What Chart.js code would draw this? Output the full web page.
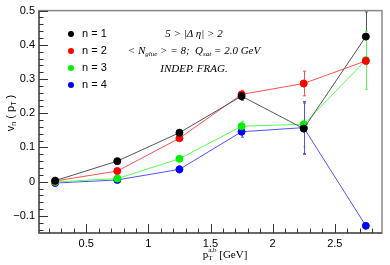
<!DOCTYPE html>
<html>
<head>
<meta charset="utf-8">
<script src="https://cdn.jsdelivr.net/npm/chart.js@4/dist/chart.umd.min.js"></script>
<style>
  html, body { margin: 0; padding: 0; background: #fff; }
  #wrap { width: 390px; height: 265px; }
</style>
</head>
<body>
<div id="wrap"><canvas id="c" width="390" height="265"></canvas></div>
<script>
// pT bins (GeV)
const ptBins = [0.25, 0.75, 1.25, 1.75, 2.25, 2.75];

const labels = ["n = 1", "n = 2", "n = 3", "n = 4"];
const colors = ["#000000", "#ff0000", "#00ee00", "#0000ff"];
const lineColors = ["#555555", "#ff5050", "#55ff55", "#5050ff"];

const v1 = [0.003, 0.060, 0.143, 0.250, 0.155, 0.424];
const v2 = [0.002, 0.031, 0.127, 0.255, 0.287, 0.353];
const v3 = [-0.001, 0.009, 0.067, 0.162, 0.168, 0.355];
const v4 = [-0.004, 0.005, 0.036, 0.146, 0.158, -0.129];

const e1 = [0.003, 0.004, 0.005, 0.012, 0.075, 0.072];
const e2 = [0.003, 0.004, 0.006, 0.012, 0.036, 0.010];
const e3 = [0.003, 0.004, 0.008, 0.015, 0.066, 0.085];
const e4 = [0.003, 0.004, 0.010, 0.016, 0.076, 0.005];

const xTicks = [0.5, 1, 1.5, 2, 2.5];
const yTicks = [-0.1, 0, 0.1, 0.2, 0.3, 0.4, 0.5];

const series = [v1, v2, v3, v4];
const errors = [e1, e2, e3, e4];

const datasets = series.map((vals, i) => ({
  label: labels[i],
  data: vals.map((v, j) => ({ x: ptBins[j], y: v })),
  showLine: true,
  borderColor: lineColors[i],
  borderWidth: 1,
  backgroundColor: colors[i],
  pointBackgroundColor: colors[i],
  pointBorderColor: colors[i],
  pointRadius: 3.5,
  pointHoverRadius: 3.5,
  order: i === 0 ? -1 : i
}));

// error bars, drawn before the points
const errorBars = {
  id: "errorBars",
  beforeDatasetsDraw(chart) {
    const ctx = chart.ctx, xs = chart.scales.x, ys = chart.scales.y;
    ctx.save();
    errors.forEach((errs, i) => {
      ctx.strokeStyle = lineColors[i];
      ctx.lineWidth = 1;
      errs.forEach((e, j) => {
        const px = Math.round(xs.getPixelForValue(ptBins[j])) + 0.5;
        const top = ys.getPixelForValue(series[i][j] + e);
        const bot = ys.getPixelForValue(series[i][j] - e);
        ctx.beginPath();
        ctx.moveTo(px, top); ctx.lineTo(px, bot);
        ctx.moveTo(px - 1.5, top); ctx.lineTo(px + 1.5, top);
        ctx.moveTo(px - 1.5, bot); ctx.lineTo(px + 1.5, bot);
        ctx.stroke();
      });
    });
    ctx.restore();
  }
};

// ROOT style frame, inward ticks, legend and texts
const decor = {
  id: "decor",
  afterDraw(chart) {
    const ctx = chart.ctx, a = chart.chartArea, xs = chart.scales.x, ys = chart.scales.y;
    ctx.save();
    // frame
    ctx.strokeStyle = "#888";
    ctx.lineWidth = 1.5;
    ctx.strokeRect(a.left, a.top, a.right - a.left, a.bottom - a.top);
    ctx.strokeStyle = "#555";
    ctx.beginPath();
    ctx.moveTo(a.left, a.top); ctx.lineTo(a.left, a.bottom); ctx.lineTo(a.right, a.bottom);
    ctx.stroke();

    // ticks
    ctx.lineWidth = 1;
    ctx.strokeStyle = "#333";
    ctx.beginPath();
    for (let k = 2; k <= 28; k++) {
      const v = k / 10;
      const px = Math.round(xs.getPixelForValue(v)) + 0.5;
      const len = (k % 5 === 0) ? 9 : 4.5;
      ctx.moveTo(px, a.bottom); ctx.lineTo(px, a.bottom - len);
    }
    for (let k = -7; k <= 25; k++) {
      const v = k / 50;
      const py = Math.round(ys.getPixelForValue(v)) + 0.5;
      const len = (k % 5 === 0) ? 9 : 4.5;
      ctx.moveTo(a.left, py); ctx.lineTo(a.left + len, py);
    }
    ctx.stroke();

    // legend
    ctx.font = "11px 'Liberation Sans', Arial, sans-serif";
    ctx.textBaseline = "middle";
    ctx.textAlign = "left";
    labels.forEach((lab, i) => {
      const y = 34 + i * 17;
      ctx.fillStyle = colors[i];
      ctx.beginPath();
      ctx.arc(71, y, 3, 0, Math.PI * 2);
      ctx.fill();
      ctx.fillStyle = "#000";
      ctx.fillText(lab, 82, y);
    });

    // annotation
    const serif = "'Liberation Serif', 'Times New Roman', serif";
    ctx.fillStyle = "#000";
    ctx.textAlign = "center";
    ctx.font = "italic 11px " + serif;
    ctx.fillText("5 > |\u0394 \u03b7| > 2", 194, 34);
    // second line with subscripts
    const parts = [
      ["< N", 11, 0], ["glue", 7, 3], [" > = 8;  Q", 11, 0], ["sat", 7, 3], [" = 2.0 GeV", 11, 0]
    ];
    let total = 0;
    parts.forEach(p => { ctx.font = "italic " + p[1] + "px " + serif; total += ctx.measureText(p[0]).width; });
    let x = 194 - total / 2;
    ctx.textAlign = "left";
    parts.forEach(p => {
      ctx.font = "italic " + p[1] + "px " + serif;
      ctx.fillText(p[0], x, 51 + p[2]);
      x += ctx.measureText(p[0]).width;
    });
    ctx.textAlign = "center";
    ctx.font = "italic 11px " + serif;
    ctx.fillText("INDEP. FRAG.", 194, 69);

    // x axis title: p_T^{a,b} [GeV]
    ctx.textAlign = "left";
    const xt = [["p", "11px", 0], ["T", "7px", 3], ["a,b", "7px", -5], [" [GeV]", "11px", 0]];
    ctx.font = "11px " + serif;
    let w = ctx.measureText("p").width + ctx.measureText(" [GeV]").width;
    ctx.font = "7px " + serif;
    w += ctx.measureText("a,b").width;
    let tx = 225 - w / 2;
    const ty = 255;
    xt.forEach((p, idx) => {
      ctx.font = p[1] + " " + serif;
      ctx.fillText(p[0], tx, ty + p[2]);
      if (idx !== 1) tx += ctx.measureText(p[0]).width;
    });

    // y axis title: v_n ( p_T )
    ctx.translate(11, 113);
    ctx.rotate(-Math.PI / 2);
    const sans = "'Liberation Sans', Arial, sans-serif";
    const yt = [["v", 11, 0], ["n", 7, 3], [" ( p", 11, 0], ["T", 7, 3], [" )", 11, 0]];
    let yw = 0;
    yt.forEach(p => { ctx.font = p[1] + "px " + sans; yw += ctx.measureText(p[0]).width; });
    let yx = -yw / 2;
    yt.forEach(p => {
      ctx.font = p[1] + "px " + sans;
      ctx.fillText(p[0], yx, p[2]);
      yx += ctx.measureText(p[0]).width;
    });
    ctx.restore();
  }
};

new Chart(document.getElementById("c"), {
  type: "scatter",
  data: { datasets },
  options: {
    responsive: false,
    animation: false,
    layout: { padding: { top: 5, right: 8, left: 0, bottom: 0 } },
    plugins: { legend: { display: false }, tooltip: { enabled: false } },
    scales: {
      x: {
        type: "linear",
        min: 0.12,
        max: 2.88,
        grid: { display: false, drawTicks: false },
        border: { display: false },
        afterBuildTicks: s => { s.ticks = xTicks.map(v => ({ value: v })); },
        afterFit: s => { s.height = 32; },
        ticks: {
          padding: 4,
          color: "#000",
          font: { family: "'Liberation Sans', Arial, sans-serif", size: 11 },
          callback: v => String(v)
        }
      },
      y: {
        min: -0.15,
        max: 0.5,
        grid: { display: false, drawTicks: false },
        border: { display: false },
        afterBuildTicks: s => { s.ticks = yTicks.map(v => ({ value: v })); },
        afterFit: s => { s.width = 39; },
        ticks: {
          padding: 4,
          color: "#000",
          font: { family: "'Liberation Sans', Arial, sans-serif", size: 11 },
          callback: v => (v < 0 ? "\u2212" + String(Math.abs(v)) : String(v))
        }
      }
    }
  },
  plugins: [errorBars, decor]
});
</script>
</body>
</html>
